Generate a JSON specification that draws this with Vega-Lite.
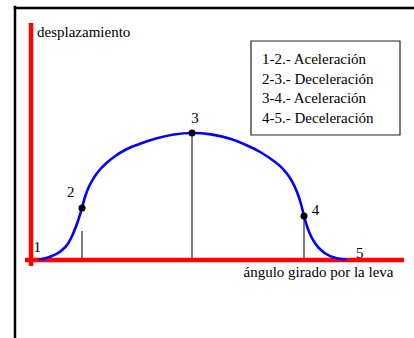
{
  "$schema": "https://vega.github.io/schema/vega-lite/v6.json",
  "width": 414,
  "height": 338,
  "padding": 0,
  "autosize": {"type": "none"},
  "background": "white",
  "config": {"view": {"stroke": null}},
  "encoding": {
    "x": {"field": "x", "type": "quantitative", "scale": {"domain": [-31, 383], "zero": false, "nice": false}, "axis": null},
    "y": {"field": "y", "type": "quantitative", "scale": {"domain": [-78, 260], "zero": false, "nice": false}, "axis": null}
  },
  "layer": [
    {
      "data": {"values": [
        {"x": -16, "x2": 390, "y": 252, "y2": 252},
        {"x": -16, "x2": -16, "y": 253, "y2": -80}
      ]},
      "mark": {"type": "rule", "color": "black", "strokeWidth": 2.5, "strokeCap": "square"},
      "encoding": {"x2": {"field": "x2"}, "y2": {"field": "y2"}}
    },
    {
      "data": {"values": [
        {"x": 220, "x2": 369, "y": 219, "y2": 125}
      ]},
      "mark": {"type": "rect", "fill": "white", "stroke": "#222222", "strokeWidth": 1.2},
      "encoding": {"x2": {"field": "x2"}, "y2": {"field": "y2"}}
    },
    {
      "data": {"values": [
        {"x": 231, "y": 195.7, "t": "1-2.- Aceleración"},
        {"x": 231, "y": 176, "t": "2-3.- Deceleración"},
        {"x": 231, "y": 156.7, "t": "3-4.- Aceleración"},
        {"x": 231, "y": 136.7, "t": "4-5.- Deceleración"},
        {"x": 6, "y": 222.7, "t": "desplazamiento"},
        {"x": 212.5, "y": -17, "t": "ángulo girado por la leva"}
      ]},
      "mark": {"type": "text", "align": "left", "baseline": "alphabetic", "font": "Liberation Serif", "fontSize": 15, "color": "black"},
      "encoding": {"text": {"field": "t"}}
    },
    {
      "data": {"values": [
        {"x": 51, "y": 0, "y2": 29},
        {"x": 161, "y": 0, "y2": 127},
        {"x": 273, "y": 0, "y2": 44}
      ]},
      "mark": {"type": "rule", "color": "black", "strokeWidth": 1},
      "encoding": {"y2": {"field": "y2"}}
    },
    {
      "data": {"values": [
        {"x": 0, "x2": 0, "y": -6, "y2": 237},
        {"x": -6, "x2": 373, "y": 0, "y2": 0}
      ]},
      "mark": {"type": "rule", "color": "#ff0000", "strokeWidth": 4.5, "strokeCap": "butt"},
      "encoding": {"x2": {"field": "x2"}, "y2": {"field": "y2"}}
    },
    {
      "data": {"values": [
        {"x": 8, "y": 0.3},
        {"x": 19, "y": 3.3},
        {"x": 29, "y": 8.3},
        {"x": 37.3, "y": 16.7},
        {"x": 42.3, "y": 26.7},
        {"x": 47.3, "y": 40},
        {"x": 51, "y": 52},
        {"x": 54, "y": 63},
        {"x": 58, "y": 73.5},
        {"x": 63, "y": 82.5},
        {"x": 69, "y": 90.5},
        {"x": 76, "y": 97.5},
        {"x": 84, "y": 103.8},
        {"x": 95, "y": 110.5},
        {"x": 109, "y": 116.2},
        {"x": 125, "y": 121.5},
        {"x": 143, "y": 125.5},
        {"x": 161, "y": 127},
        {"x": 180, "y": 125.6},
        {"x": 200, "y": 121},
        {"x": 215, "y": 115},
        {"x": 230, "y": 107.5},
        {"x": 242, "y": 99.5},
        {"x": 252, "y": 91},
        {"x": 260, "y": 80.5},
        {"x": 266, "y": 68},
        {"x": 270, "y": 56},
        {"x": 273, "y": 44},
        {"x": 277.3, "y": 30},
        {"x": 284, "y": 16.7},
        {"x": 294, "y": 6.7},
        {"x": 305.7, "y": 1.7},
        {"x": 315.7, "y": 0.5}
      ]},
      "mark": {"type": "line", "color": "#0000ff", "strokeWidth": 2.6, "interpolate": "monotone"}
    },
    {
      "data": {"values": [
        {"x": 51, "y": 52},
        {"x": 161, "y": 127},
        {"x": 273, "y": 44}
      ]},
      "mark": {"type": "circle", "color": "black", "opacity": 1, "size": 50}
    },
    {
      "data": {"values": [
        {"x": 6.3, "y": 8.3, "t": "1"},
        {"x": 39.7, "y": 62.7, "t": "2"},
        {"x": 164, "y": 137.3, "t": "3"},
        {"x": 284.5, "y": 45, "t": "4"},
        {"x": 328.7, "y": 1.7, "t": "5"}
      ]},
      "mark": {"type": "text", "align": "center", "baseline": "alphabetic", "font": "Liberation Serif", "fontSize": 15, "color": "black"},
      "encoding": {"text": {"field": "t"}}
    }
  ]
}
